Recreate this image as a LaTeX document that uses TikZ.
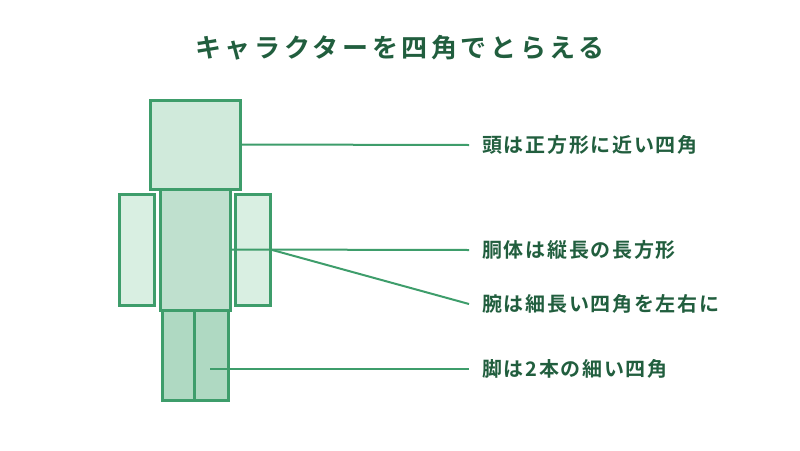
\documentclass[tikz,border=0pt]{standalone}
\usepackage{fontspec}
\newfontfamily\jpl{Noto Sans CJK JP Bold}[LetterSpace=8.5]
\newfontfamily\jpt{Noto Sans CJK JP Bold}[LetterSpace=14]
\definecolor{stroke}{HTML}{3E9D6B}
\definecolor{txt}{HTML}{215E3E}
\definecolor{fhead}{HTML}{D0EADB}
\definecolor{ftorso}{HTML}{BFE0CE}
\definecolor{farm}{HTML}{D9EFE2}
\definecolor{fleg}{HTML}{AFD9C2}
\tikzset{
  part/.style={draw=stroke, line width=3pt, inner sep=0pt, outer sep=0pt},
  conn/.style={draw=stroke, line width=2pt},
  lab/.style={anchor=west, inner sep=0pt, text=txt, font=\jpl\fontsize{20}{22}\selectfont},
}
\begin{document}
\begin{tikzpicture}[x=1pt,y=-1pt]
\useasboundingbox (0,0) rectangle (800,450);
\node[lab, anchor=center, font=\jpt\fontsize{26}{30}\selectfont] (title) at (400,48) {キャラクターを四角でとらえる};
% arms
\node[part, fill=farm, minimum width=35pt, minimum height=111pt] (larm) at (136.5,249.5) {};
\node[part, fill=farm, minimum width=35pt, minimum height=111pt] (rarm) at (253,249.5) {};
% legs
\node[part, fill=fleg, minimum width=32pt, minimum height=90pt] (lleg) at (178,355) {};
\node[part, fill=fleg, minimum width=34pt, minimum height=90pt] (rleg) at (211,355) {};
% torso
\node[part, fill=ftorso, minimum width=70pt, minimum height=121pt] (torso) at (195,249.5) {};
% head
\node[part, fill=fhead, minimum width=90pt, minimum height=89pt] (head) at (195,144.5) {};
% labels
\node[lab] (l1) at (482,145) {頭は正方形に近い四角};
\node[lab] (l2) at (482,250) {胴体は縦長の長方形};
\node[lab] (l3) at (482,304) {腕は細長い四角を左右に};
\node[lab] (l4) at (482,369) {脚は2本の細い四角};
\coordinate (legpt) at (210,369);
\draw[conn] (head.east) -- ([xshift=-13pt]l1.west);
\draw[conn] (torso.east) -- ([xshift=-13pt]l2.west);
\draw[conn] (rarm.east) -- ([xshift=-13pt]l3.west);
\draw[conn] (legpt) -- ([xshift=-13pt]l4.west);
\end{tikzpicture}
\end{document}
